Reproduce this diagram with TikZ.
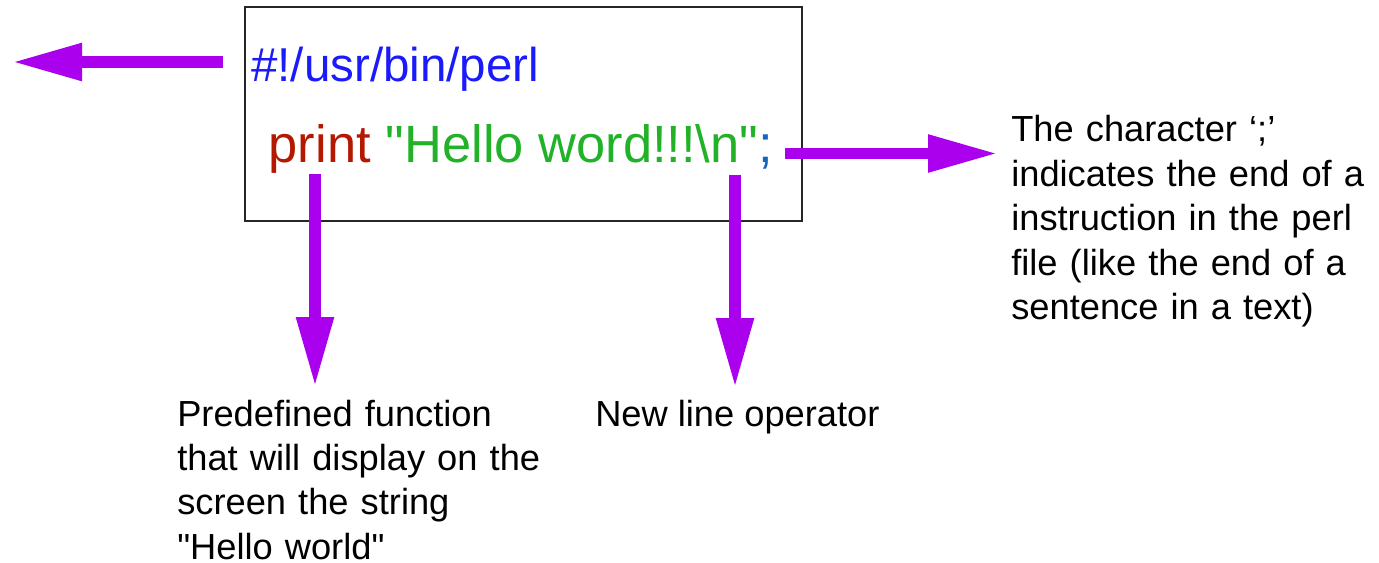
\documentclass[tikz,border=0pt]{standalone}
\usepackage{fontspec}
\setmainfont{Liberation Sans}
\usetikzlibrary{arrows.meta,positioning}

\definecolor{perlblue}{RGB}{26,26,250}
\definecolor{keyred}{RGB}{180,24,0}
\definecolor{strgreen}{RGB}{34,178,40}
\definecolor{semiblue}{RGB}{21,101,192}
\definecolor{pointer}{RGB}{170,0,238}

\tikzset{
  callout/.style={draw=pointer, line width=.2875cm,
    -{Triangle[length=1.75cm, width=.875cm]}},
  note/.style={anchor=base west, inner sep=0, align=left,
    font=\fontsize{25.8pt}{31.65pt}\selectfont},
  code/.style={inner sep=0, font=\fontsize{37.3pt}{44pt}\selectfont}
}

\begin{document}
\begin{tikzpicture}
  \useasboundingbox (0, 0) rectangle (34.475cm, 14.05cm);

  % the script
  \node at(13.0875cm, 11.2cm) [draw=black!85, line width=1.1pt,
    minimum width=13.925cm, minimum height=5.35cm](listing){};
  \node at(6.275cm, 12cm) [anchor=base west, inner sep=0,
    font=\fontsize{33.8pt}{40pt}\selectfont, text=perlblue](shebang)
    {\#!/usr/bin/perl};
  \node at(6.7125cm, 9.975cm) [code, anchor=base west, text=keyred](prt){print};
  \node[code, base right=.365cm of prt, text=strgreen](str)
    {\textquotedbl Hello word!!!\textbackslash n\textquotedbl};
  \node[code, base right=0cm of str, text=semiblue](semi){;};

  % notes
  \node at(25.275cm, 10.5cm) [note, text width=9cm](endnote)
    {The character ‘;’\\indicates the end of a\\instruction in the perl\\
     file (like the end of a\\sentence in a text)};
  \node at(4.425cm, 3.4cm) [note, text width=9.5cm](fnnote)
    {Predefined function\\that will display on the\\screen the string\\
     \textquotedbl Hello world\textquotedbl};
  \node at(14.875cm, 3.4cm) [note](nlnote){New line operator};

  % arrows
  \coordinate (shebang-out) at (5.575cm, 12.5cm);
  \coordinate (shebang-tip) at (.3cm, 12.5cm);
  \coordinate (semi-out) at (19.625cm, 10.2125cm);
  \coordinate (semi-tip) at (24.95cm, 10.2125cm);
  \coordinate (prt-out) at (7.875cm, 9.7cm);
  \coordinate (prt-tip) at (7.875cm, 4.375cm);
  \coordinate (nl-out) at (18.375cm, 9.675cm);
  \coordinate (nl-tip) at (18.375cm, 4.35cm);

  \draw[callout] (shebang-out) -- (shebang-tip);
  \draw[callout] (semi-out) -- (semi-tip);
  \draw[callout] (prt-out) -- (prt-tip);
  \draw[callout] (nl-out) -- (nl-tip);
\end{tikzpicture}
\end{document}
